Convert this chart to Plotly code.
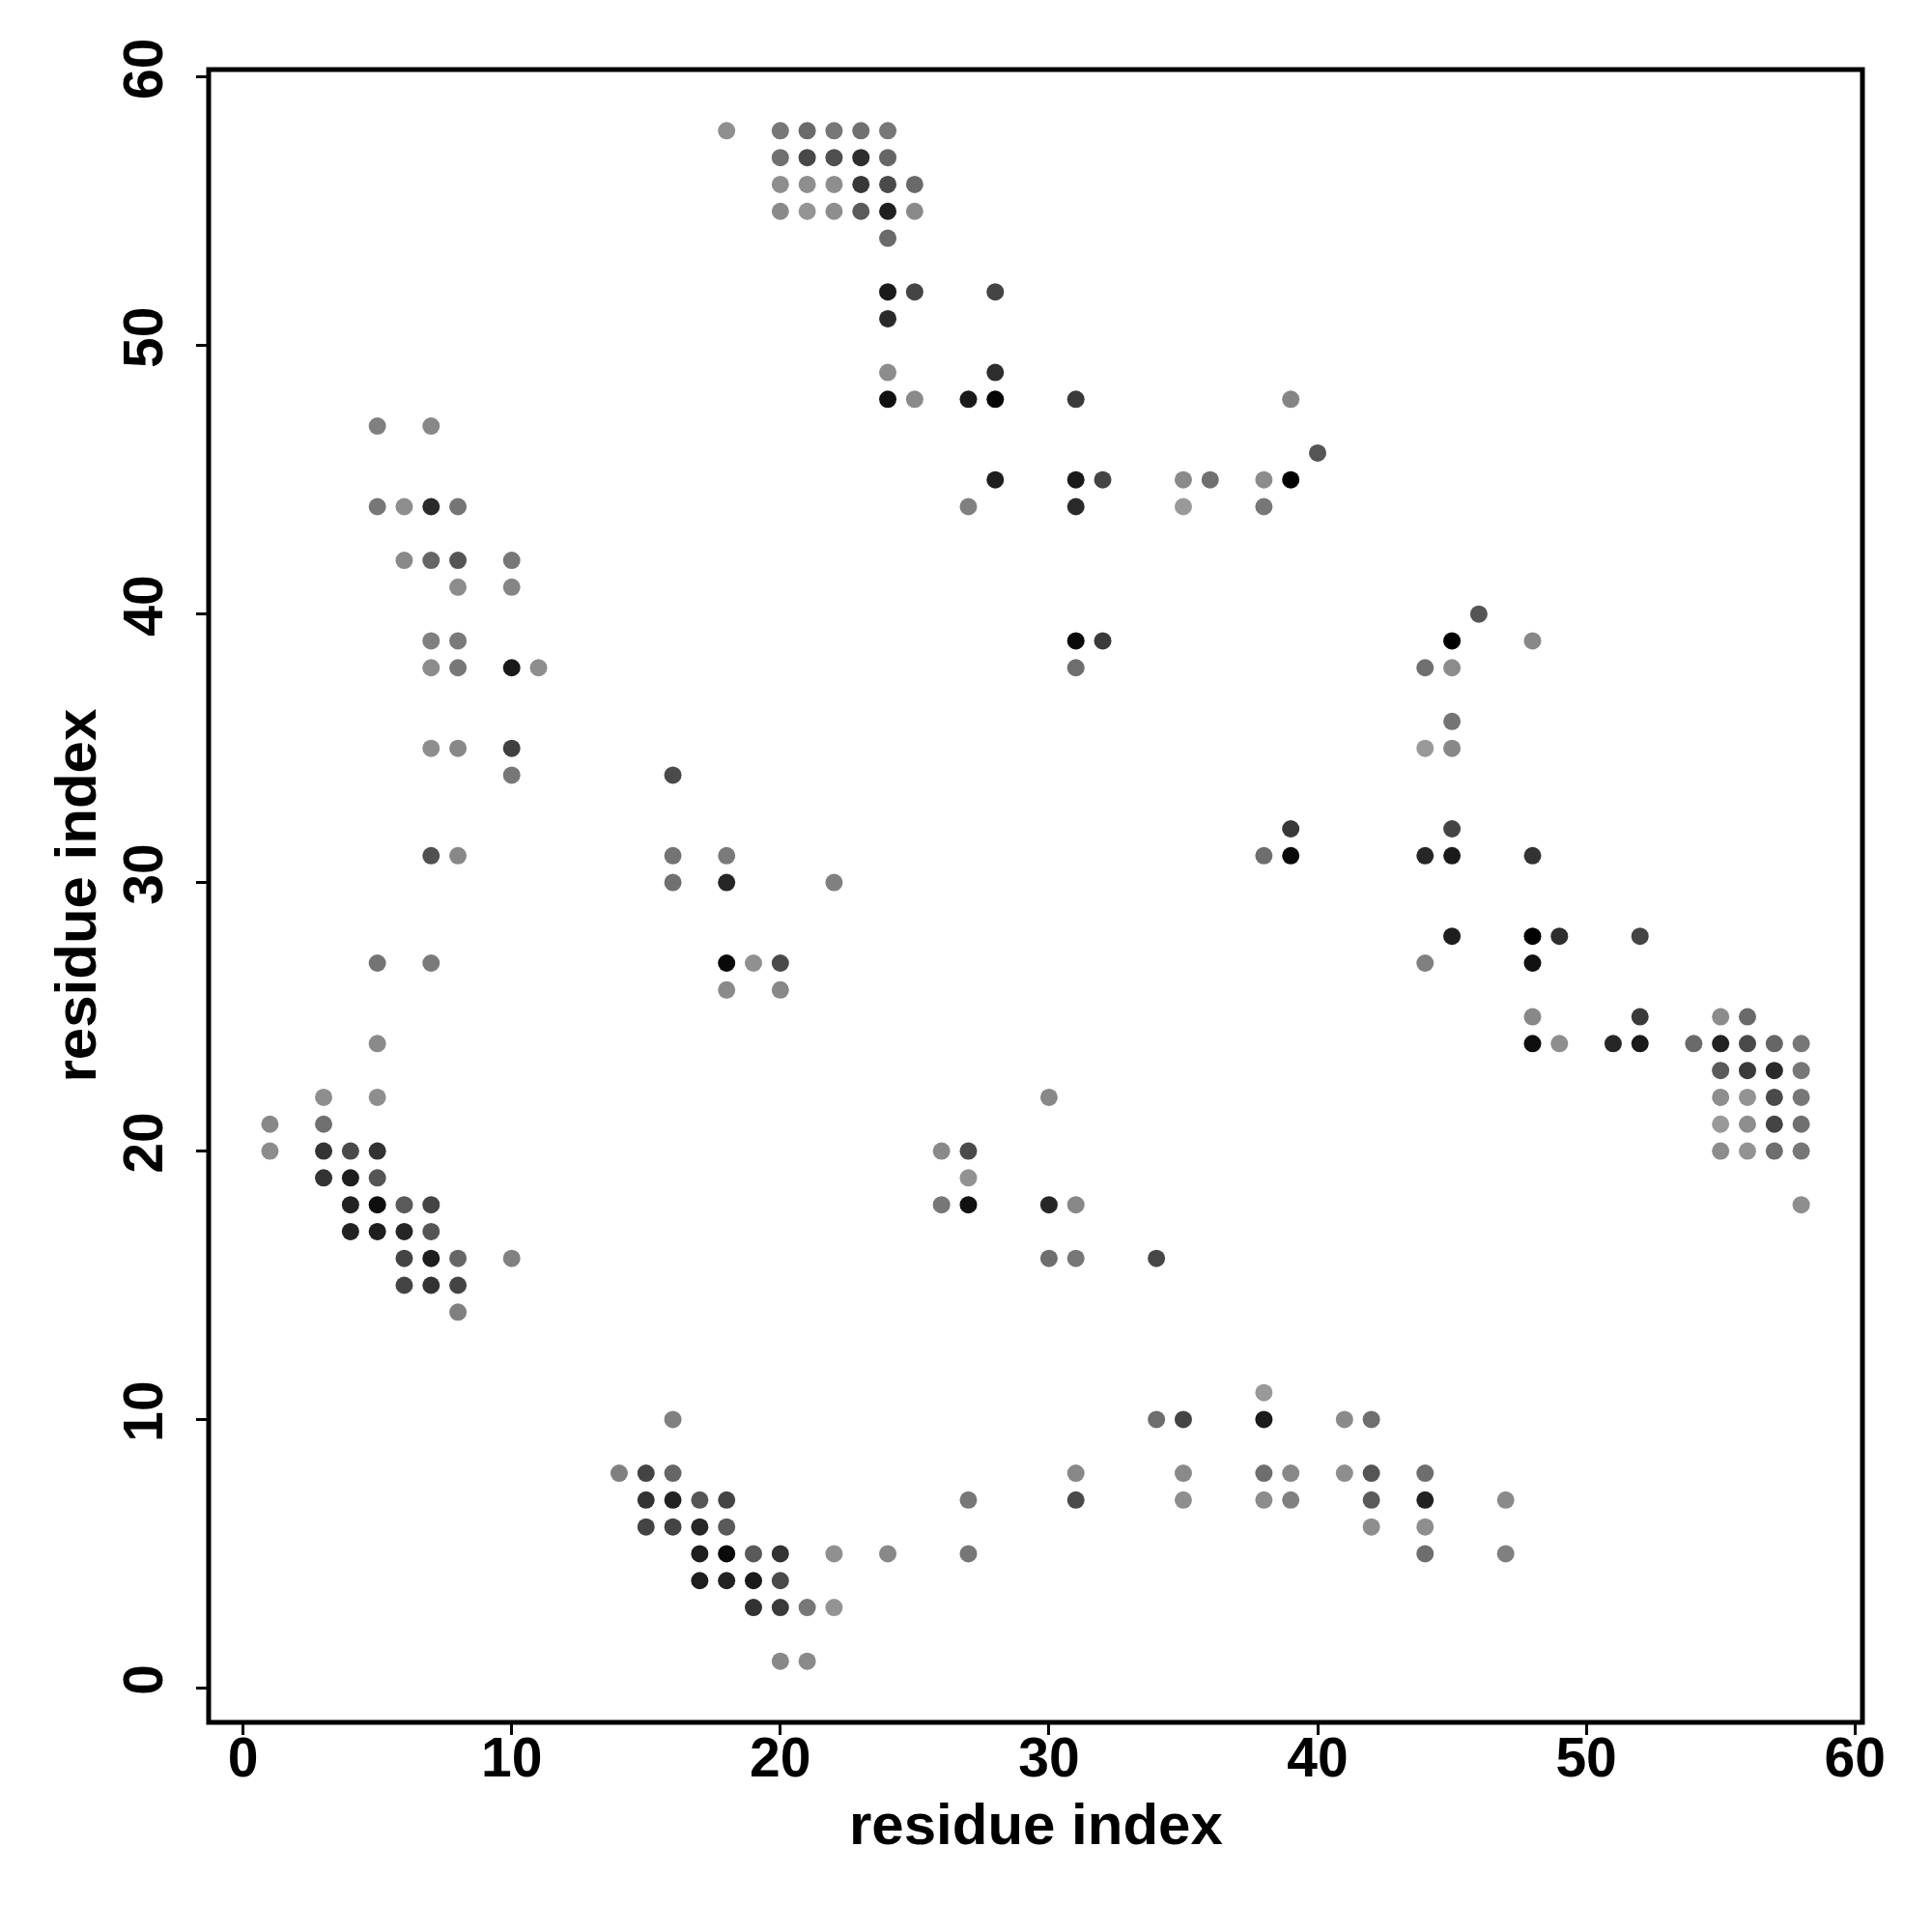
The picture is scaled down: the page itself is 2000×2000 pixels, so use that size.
import plotly.graph_objects as go

# contact map: residue i (x), residue j (y), grey shade (0 = black, 255 = white)
res_i = [
    18, 20, 21, 22, 23, 24,
    20, 21, 22, 23, 24,
    20, 21, 22, 23, 24, 25,
    20, 21, 22, 23, 24, 25,
    24,
    24, 25, 28,
    24,
    24, 28,
    24, 25, 27, 28, 31, 39,
    5, 7,
    40,
    28, 31, 32, 35, 36, 38, 39,
    5, 6, 7, 8, 27, 31, 35, 38,
    6, 7, 8, 10,
    8, 10,
    46,
    7, 8, 31, 32, 45, 48,
    7, 8, 10, 11, 31, 44, 45,
    45,
    7, 8, 10, 44, 45,
    10, 16,
    39, 45,
    7, 8, 16, 18, 38, 39, 44, 45, 48,
    16, 18, 22,
    45, 48, 49, 52,
    5, 7, 18, 19, 20, 44, 48,
    18, 20,
    48, 52, 55, 56,
    5, 48, 49, 51, 52, 54, 55, 56, 57, 58,
    55, 56, 57, 58,
    3, 5, 30, 55, 56, 57, 58,
    1, 3, 55, 56, 57, 58,
    1, 3, 4, 5, 26, 27, 55, 56, 57, 58,
    3, 4, 5, 27,
    4, 5, 6, 7, 26, 27, 30, 31, 58,
    4, 5, 6, 7,
    6, 7, 8, 10, 30, 31, 34,
    6, 7, 8,
    8,
    38,
    16, 34, 35, 38, 41, 42,
    14, 15, 16, 31, 35, 38, 39, 41, 42, 44,
    15, 16, 17, 18, 27, 31, 35, 38, 39, 42, 44, 47,
    15, 16, 17, 18, 42, 44,
    17, 18, 19, 20, 22, 24, 27, 44, 47,
    17, 18, 19, 20,
    19, 20, 21, 22,
    20, 21,
]

res_j = [
    58, 58, 58, 58, 58, 58,
    57, 57, 57, 57, 57,
    56, 56, 56, 56, 56, 56,
    55, 55, 55, 55, 55, 55,
    54,
    52, 52, 52,
    51,
    49, 49,
    48, 48, 48, 48, 48, 48,
    47, 47,
    46,
    45, 45, 45, 45, 45, 45, 45,
    44, 44, 44, 44, 44, 44, 44, 44,
    42, 42, 42, 42,
    41, 41,
    40,
    39, 39, 39, 39, 39, 39,
    38, 38, 38, 38, 38, 38, 38,
    36,
    35, 35, 35, 35, 35,
    34, 34,
    32, 32,
    31, 31, 31, 31, 31, 31, 31, 31, 31,
    30, 30, 30,
    28, 28, 28, 28,
    27, 27, 27, 27, 27, 27, 27,
    26, 26,
    25, 25, 25, 25,
    24, 24, 24, 24, 24, 24, 24, 24, 24, 24,
    23, 23, 23, 23,
    22, 22, 22, 22, 22, 22, 22,
    21, 21, 21, 21, 21, 21,
    20, 20, 20, 20, 20, 20, 20, 20, 20, 20,
    19, 19, 19, 19,
    18, 18, 18, 18, 18, 18, 18, 18, 18,
    17, 17, 17, 17,
    16, 16, 16, 16, 16, 16, 16,
    15, 15, 15,
    14,
    11,
    10, 10, 10, 10, 10, 10,
    8, 8, 8, 8, 8, 8, 8, 8, 8, 8,
    7, 7, 7, 7, 7, 7, 7, 7, 7, 7, 7, 7,
    6, 6, 6, 6, 6, 6,
    5, 5, 5, 5, 5, 5, 5, 5, 5,
    4, 4, 4, 4,
    3, 3, 3, 3,
    1, 1,
]

shade = [
    143, 119, 106, 119, 112, 119,
    112, 72, 80, 46, 102,
    142, 142, 142, 56, 74, 106,
    138, 148, 142, 90, 32, 138,
    106,
    26, 68, 68,
    42,
    140, 46,
    17, 138, 26, 5, 58, 133,
    128, 136,
    85,
    30, 26, 68, 138, 112, 140, 0,
    119, 142, 42, 117, 128, 42, 153, 119,
    138, 102, 85, 119,
    140, 133,
    85,
    128, 122, 10, 58, 0, 136,
    140, 119, 26, 142, 110, 112, 140,
    116,
    142, 136, 64, 153, 136,
    119, 74,
    56, 68,
    80, 136, 116, 122, 110, 10, 38, 26, 51,
    112, 38, 128,
    30, 0, 46, 68,
    116, 122, 10, 144, 74, 128, 17,
    138, 136,
    136, 58, 140, 106,
    138, 14, 142, 38, 26, 106, 34, 74, 102, 119,
    90, 58, 42, 119,
    142, 142, 136, 142, 147, 74, 119,
    136, 112, 153, 142, 68, 112,
    140, 51, 74, 51, 138, 74, 140, 147, 110, 119,
    51, 30, 85, 146,
    34, 14, 90, 68, 119, 17, 38, 136, 142,
    34, 30, 38, 85,
    68, 30, 102, 128, 110, 119, 71,
    68, 51, 68,
    128,
    153,
    128, 110, 68, 26, 138, 110,
    128, 68, 102, 136, 138, 110, 136, 142, 85, 110,
    51, 34, 85, 68, 119, 74, 142, 140, 128, 90, 34, 138,
    68, 68, 38, 90, 142, 142,
    30, 10, 90, 51, 144, 136, 119, 110, 128,
    30, 34, 26, 74,
    51, 58, 119, 147,
    136, 138,
]

tick_vals = [0, 10, 20, 30, 40, 50, 60]
axis_title = "residue index"

colors = [f"rgb({g},{g},{g})" for g in shade]

FONT = "Liberation Sans, Arial, Helvetica, sans-serif"

fig = go.Figure(
    go.Scatter(
        x=res_i,
        y=res_j,
        mode="markers",
        marker=dict(size=18, color=colors, line=dict(width=0)),
        hoverinfo="x+y",
    )
)

common = dict(
    tickvals=tick_vals,
    ticktext=[str(v) for v in tick_vals],
    ticks="outside",
    ticklen=12,
    tickwidth=3,
    tickcolor="black",
    showgrid=False,
    zeroline=False,
    showline=False,
    automargin=False,
    range=[-1.28, 60.28],
    tickfont=dict(family=FONT, size=57, color="black", weight="bold"),
)

title_font = dict(family=FONT, size=60, color="black", weight="bold")

fig.update_layout(
    width=1984,
    height=1984,
    paper_bgcolor="white",
    plot_bgcolor="white",
    showlegend=False,
    margin=dict(l=208, r=64, t=64, b=209),
    xaxis=dict(**common, ticklabelstandoff=-25),
    yaxis=dict(**common, tickangle=-90, ticklabelstandoff=12),
    shapes=[
        dict(type="rect", xref="paper", yref="paper", x0=0, y0=0, x1=1, y1=1,
             line=dict(color="black", width=5), layer="above"),
    ],
    annotations=[
        dict(text=axis_title, xref="paper", yref="paper", x=0.5, y=0,
             xanchor="center", yanchor="middle", yshift=-105,
             showarrow=False, font=title_font),
        dict(text=axis_title, xref="paper", yref="paper", x=0, y=0.5,
             xanchor="center", yanchor="middle", xshift=-138, textangle=-90,
             showarrow=False, font=title_font),
    ],
)

fig.write_html("out.html")
